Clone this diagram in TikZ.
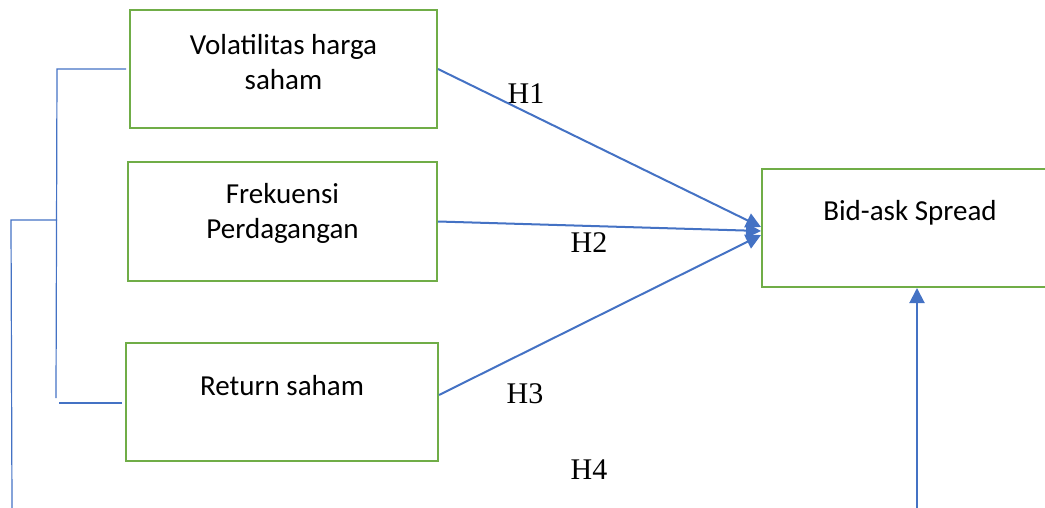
\documentclass[tikz,border=0pt]{standalone}
\usepackage{fontspec}
\newfontfamily\boxfont{Carlito}
\newfontfamily\hypfont{Liberation Serif}
\usepackage{xcolor}
\usepackage{tikz}
\usetikzlibrary{calc}
\usetikzlibrary{arrows.meta}
\definecolor{officegreen}{HTML}{70AD47}
\definecolor{officeblue}{HTML}{4472C4}
\tikzset{varbox/.style={rectangle,draw=officegreen,line width=2pt,minimum width=#1,minimum height=118pt,inner sep=0pt},
         varbox/.default=307pt,
         boxtext/.style={align=center,font=\boxfont\fontsize{29}{35}\selectfont},
         hyplabel/.style={font=\hypfont\fontsize{30}{36}\selectfont},
         hyparrow/.style={draw=officeblue,line width=2pt,-{Triangle[length=15pt,width=15pt]}},
         bracketline/.style={draw=officeblue,line width=1.2pt}}

\begin{document}
\begin{tikzpicture}[x=1pt,y=-1pt]
\clip (0,0) rectangle (1045,508);
\node[varbox,label={[boxtext,yshift=7pt]center:{Volatilitas harga\\saham}}] (vol) at (283.5,69) {};
\node[varbox=309pt,label={[boxtext,yshift=8pt]center:{Frekuensi\\Perdagangan}}] (frek) at (282.5,221.5) {};
\node[varbox=312pt,label={[boxtext,yshift=16pt]center:{Return saham}}] (ret) at (282,402) {};
\node[varbox=310pt,label={[boxtext,yshift=15pt,xshift=-7pt]center:{Bid-ask Spread}}] (bas) at (917,228) {};

\coordinate (h4) at (917,508);

\node[hyplabel] (h1) at (526,94) {H1};
\node[hyplabel] (h2) at (589,243) {H2};
\node[hyplabel] (h3) at (525,394) {H3};
\node[hyplabel] (h4label) at (589,470) {H4};

\draw[hyparrow] (vol.east) -- ($(bas.west)+(0,-1)$);
\draw[hyparrow] (frek.east) -- ($(bas.west)+(0,3)$);
\draw[hyparrow] ($(ret.east)+(0,-7)$) -- ($(bas.west)+(0,7)$);
\draw[hyparrow] (h4) -- (bas.south);

% bracket on the left
\draw[bracketline] ($(vol.west)+(-3,0)$) -- ++(-69,0) -- ++(-1,329);
\draw[bracketline] ($(ret.west)+(-3,1)$) -- ++(-63,0);
\draw[bracketline] (57,220) -- (11,220) -- (12,508);
\end{tikzpicture}
\end{document}
